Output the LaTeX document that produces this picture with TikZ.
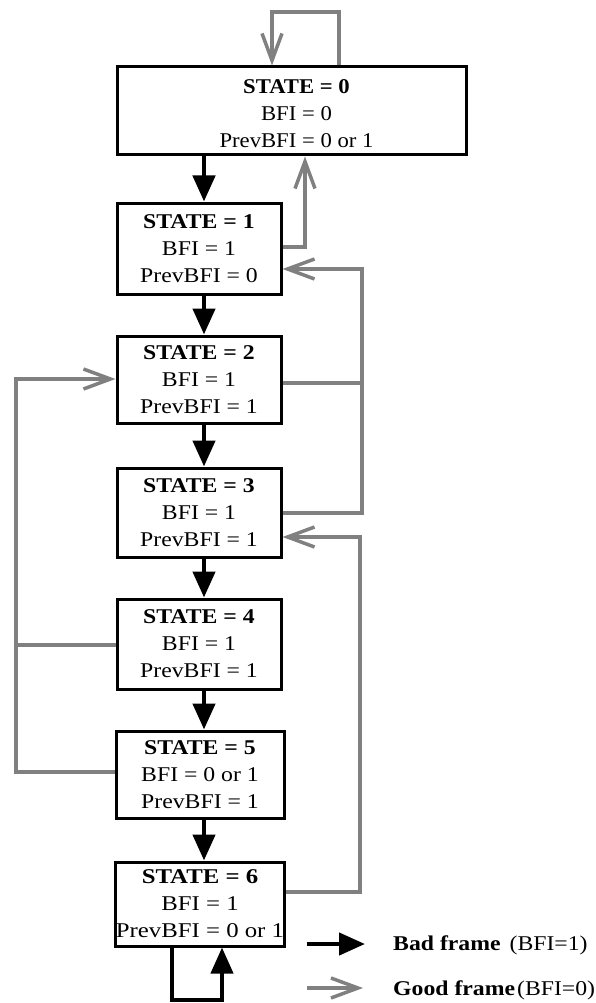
\documentclass[tikz,border=0pt]{standalone}
\usepackage{fontspec}
\setmainfont{Liberation Serif}[FakeStretch=1.13]
\newfontfamily\serifA{Liberation Serif}[FakeStretch=1.08]
\newfontfamily\serifW{Liberation Serif}[FakeStretch=1.18]
\usetikzlibrary{arrows.meta}
\definecolor{goodgray}{RGB}{128,128,128}
\begin{document}
\begin{tikzpicture}[x=1pt,y=-1pt,
  statebox/.style={draw=black, line width=3pt, inner sep=0pt, align=center,
    font=\fontsize{21}{27}\selectfont},
  bad/.style={draw=black, line width=4.5pt, -{Triangle[length=26pt,width=22pt]}},
  good/.style={draw=goodgray, line width=3.5pt, -{Straight Barb[length=27pt,width=20pt]}},
  goodline/.style={draw=goodgray, line width=3.5pt},
  legend/.style={anchor=base west, inner sep=0pt, font=\fontsize{21}{27}\selectfont},
]
\useasboundingbox (0,0) rectangle (595,1003);

% state boxes
\node[statebox, font=\fontsize{21}{27}\serifA, minimum width=349pt, minimum height=88pt] (b0) at (291.5,111)
  {\rule{0pt}{20pt}\hspace{10pt}\textbf{STATE = 0}\\\hspace{10pt}BFI = 0\\\hspace{10pt}PrevBFI = 0 or 1};
\node[statebox, minimum width=164pt, minimum height=91pt] (b1) at (199,248.5)
  {\textbf{STATE = 1}\\BFI = 1\\PrevBFI = 0};
\node[statebox, minimum width=164pt, minimum height=87pt] (b2) at (199,379.5)
  {\textbf{STATE = 2}\\BFI = 1\\PrevBFI = 1};
\node[statebox, minimum width=164pt, minimum height=89pt] (b3) at (199,512.5)
  {\textbf{STATE = 3}\\BFI = 1\\PrevBFI = 1};
\node[statebox, minimum width=164pt, minimum height=90pt] (b4) at (199,644)
  {\textbf{STATE = 4}\\BFI = 1\\PrevBFI = 1};
\node[statebox, minimum width=168pt, minimum height=87pt] (b5) at (200,774.5)
  {\textbf{STATE = 5}\\BFI = 0 or 1\\PrevBFI = 1};
\node[statebox, font=\fontsize{21}{27}\serifW, minimum width=168pt, minimum height=84pt] (b6) at (200,904)
  {\textbf{STATE = 6}\\BFI = 1\\PrevBFI = 0 or 1};

% bad-frame transitions (black)
\coordinate (col) at (204,0);
\draw[bad] (b0.south -| col) -- (b1.north -| col);
\draw[bad] (b1.south -| col) -- (b2.north -| col);
\draw[bad] (b2.south -| col) -- (b3.north -| col);
\draw[bad] (b3.south -| col) -- (b4.north -| col);
\draw[bad] (b4.south -| col) -- (b5.north -| col);
\draw[bad] (b5.south -| col) -- (b6.north -| col);
\coordinate (sa) at (172,1000);
\coordinate (sb) at (222,1000);
\draw[bad, line width=4pt, line join=miter] (b6.south -| sa) -- (sa) -- (sb) -- (b6.south -| sb);

% good-frame transitions (grey)
\coordinate (la) at (339,12);
\coordinate (lb) at (272,12);
\draw[good] (b0.north -| la) -- (la) -- (lb) -- (b0.north -| lb);

\coordinate (g1) at (305,247);
\draw[good] (b1.east |- g1) -- (g1) -- (b0.south -| g1);

\coordinate (r2) at (362,383);
\coordinate (r3) at (362,513);
\coordinate (r1) at (362,269);
\draw[goodline] (b2.east |- r2) -- (r2);
\draw[good] (b3.east |- r3) -- (r3) -- (r1) -- (b1.east |- r1);

\coordinate (r6) at (360,892);
\coordinate (r3b) at (360,537);
\draw[good] (b6.east |- r6) -- (r6) -- (r3b) -- (b3.east |- r3b);

\coordinate (l4) at (16,645);
\coordinate (l5) at (16,772);
\coordinate (l2) at (16,379);
\draw[goodline] (b4.west |- l4) -- (l4);
\draw[good] (b5.west |- l5) -- (l5) -- (l2) -- (b2.west |- l2);

% legend
\coordinate (k1) at (307,944);
\coordinate (k1e) at (365,944);
\coordinate (k2) at (307,988);
\coordinate (k2e) at (363,988);
\draw[bad] (k1) -- (k1e);
\draw[good] (k2) -- (k2e);
\node[legend] (t1) at (393,950) {\textbf{Bad frame}\hspace{9pt}(BFI=1)};
\node[legend] (t2) at (393,995) {\textbf{Good frame}\hspace{2pt}(BFI=0)};
\end{tikzpicture}
\end{document}
